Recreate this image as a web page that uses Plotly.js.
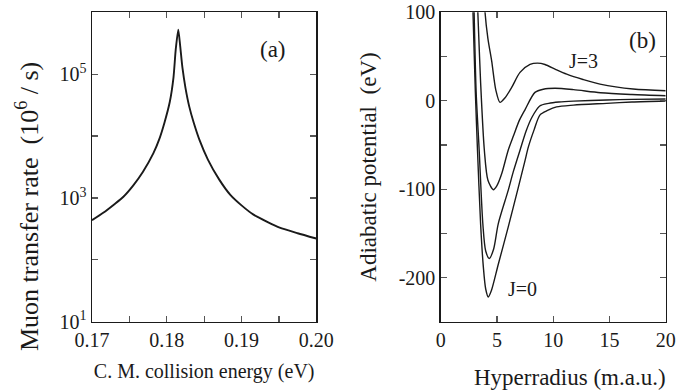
<!DOCTYPE html>
<html>
<head>
<meta charset="utf-8">
<script src="https://cdn.plot.ly/plotly-3.0.1.min.js"></script>
<style>html,body{margin:0;padding:0;background:#fff;}#chart{width:694px;height:392px;}</style>
</head>
<body>
<div id="chart"></div>
<script>
// Panel (a): muon transfer rate (10^6 / s) vs C.M. collision energy (eV)
const energy = [0.1700, 0.1715, 0.1730, 0.1742, 0.1755, 0.1768, 0.1782, 0.1790, 0.1797, 0.1804, 0.1809, 0.1812, 0.18154,
                0.1818, 0.1821, 0.1825, 0.1830, 0.1836, 0.1844, 0.1855, 0.1870, 0.1885, 0.1900, 0.1916, 0.1935, 0.1951, 0.1975, 0.2000];
const rate   = [436, 575, 794, 1047, 1585, 2630, 5248, 8913, 16596, 35481, 89125, 251189, 524808,
                281838, 125893, 60256, 30200, 16596, 8511, 4169, 1995, 1122, 759, 537, 407, 331, 269, 221];

// Panel (b): adiabatic potentials (eV) vs hyperradius (m.a.u.)
const rJ0 = [2.80, 2.87, 3.08, 3.27, 3.55, 3.79, 4.00, 4.23, 4.50, 5.12, 6.00, 6.90, 7.49, 7.80, 8.30, 8.83, 9.50, 10.3, 11.8, 14.75, 17.0, 20.0];
const vJ0 = [130, 100, 10, -56, -140, -188, -213, -222, -215, -185, -143, -98, -68, -52, -33, -16, -11, -7, -5, -3, -1.5, -0.3];
const rJ1 = [2.92, 2.97, 3.15, 3.42, 3.75, 4.00, 4.32, 4.70, 5.12, 6.00, 6.46, 7.05, 7.60, 8.10, 8.80, 9.60, 10.5, 11.8, 14.75, 17.0, 20.0];
const vJ1 = [130, 100, 10, -56, -140, -170, -178.5, -168, -139, -101.5, -80, -56, -34, -19, -6, -3, -1.5, -0.5, 0.8, 1.5, 1.9];
const rJ2 = [3.20, 3.30, 3.55, 3.88, 4.20, 4.68, 5.00, 5.42, 6.00, 6.46, 7.00, 7.50, 8.38, 9.12, 10.16, 11.8, 14.2, 17.0, 20.0];
const vJ2 = [130, 100, 20, -56, -90, -100.7, -96, -82.6, -56, -40, -22, -10, 9.4, 13, 14, 12.5, 9, 7, 5.6];
const rJ3 = [3.85, 3.94, 4.20, 4.53, 4.90, 5.27, 5.70, 6.31, 7.05, 7.94, 8.60, 9.27, 10.2, 11.2, 12.65, 14.16, 17.1, 20.0];
const vJ3 = [130, 100, 70, 45, 12, -1.9, 3, 15, 32, 41, 42.5, 41, 35.5, 30, 24, 18.8, 13.2, 11.3];

// Tick labels
const xaTicks = [0.170, 0.175, 0.180, 0.185, 0.190, 0.195, 0.200];
const xaText  = ['0.17', '', '0.18', '', '0.19', '', '0.20'];
const yaTicks = [1e1, 1e2, 1e3, 1e4, 1e5, 1e6];
const yaText  = ['10<sup>1</sup>', '', '10<sup>3</sup>', '', '10<sup>5</sup>', ''];
const xbTicks = [0, 5, 10, 15, 20];
const xbText  = ['0', '5', '10', '15', '20'];
const ybTicks = [-200, -150, -100, -50, 0, 50, 100];
const ybText  = ['-200', '', '-100', '', '0', '', '100'];

const FONT = 'Liberation Serif, Times New Roman, serif';
const INK = '#1a1a1a';
const W = 694, H = 392;
const NB = '\u00a0';

const axisBase = {
  showline: true, linecolor: INK, linewidth: 1.4, mirror: 'ticks',
  ticks: 'inside', ticklen: 6, tickwidth: 1.2, tickcolor: '#555',
  showgrid: false, zeroline: false, tickmode: 'array',
  tickfont: {family: FONT, size: 20, color: INK}
};

const lineB = {color: INK, width: 1.4, shape: 'spline', smoothing: 0.8};
const traces = [
  {x: energy, y: rate, xaxis: 'x', yaxis: 'y', mode: 'lines', line: {color: INK, width: 1.9, shape: 'spline', smoothing: 0.6}},
  {x: rJ0, y: vJ0, xaxis: 'x2', yaxis: 'y2', mode: 'lines', line: lineB},
  {x: rJ1, y: vJ1, xaxis: 'x2', yaxis: 'y2', mode: 'lines', line: lineB},
  {x: rJ2, y: vJ2, xaxis: 'x2', yaxis: 'y2', mode: 'lines', line: lineB},
  {x: rJ3, y: vJ3, xaxis: 'x2', yaxis: 'y2', mode: 'lines', line: lineB}
];

const layout = {
  width: W, height: H,
  margin: {l: 0, r: 0, t: 0, b: 0},
  paper_bgcolor: '#fff', plot_bgcolor: '#fff',
  showlegend: false,
  font: {family: FONT, color: INK},
  xaxis: Object.assign({}, axisBase, {
    domain: [92 / W, 316.3 / W], anchor: 'y', range: [0.17, 0.20],
    tickvals: xaTicks, ticktext: xaText,
    title: {text: 'C. M. collision energy (eV)', font: {family: FONT, size: 20, color: INK}, standoff: 14}
  }),
  yaxis: Object.assign({}, axisBase, {
    domain: [1 - 321.7 / H, 1 - 12.3 / H], anchor: 'x', type: 'log', range: [1, 6],
    tickvals: yaTicks, ticktext: yaText
  }),
  xaxis2: Object.assign({}, axisBase, {
    domain: [440.7 / W, 665.7 / W], anchor: 'y2', range: [0, 20],
    tickvals: xbTicks, ticktext: xbText
  }),
  yaxis2: Object.assign({}, axisBase, {
    domain: [1 - 321.7 / H, 1 - 12.3 / H], anchor: 'x2', range: [-250, 100],
    tickvals: ybTicks, ticktext: ybText,
    title: {text: 'Adiabatic potential' + NB + NB + '(eV)', font: {family: FONT, size: 23, color: INK}, standoff: 15}
  }),
  annotations: [
    {text: 'Muon transfer rate' + NB + NB + '(10<sup>6</sup> / s)', xref: 'paper', yref: 'paper', x: 28 / W, y: 1 - 207 / H,
     xanchor: 'center', yanchor: 'middle', textangle: -90, showarrow: false, font: {family: FONT, size: 26, color: INK}},
    {text: 'Hyperradius (m.a.u.)', xref: 'paper', yref: 'paper', x: 570 / W, y: 1 - 377 / H,
     xanchor: 'center', yanchor: 'middle', showarrow: false, font: {family: FONT, size: 23, color: INK}},
    {text: '(a)', xref: 'x', yref: 'paper', x: 0.1942, y: 1 - 50 / H, xanchor: 'center', yanchor: 'middle',
     showarrow: false, font: {family: FONT, size: 23, color: INK}},
    {text: '(b)', xref: 'x2', yref: 'paper', x: 17.9, y: 1 - 40 / H, xanchor: 'center', yanchor: 'middle',
     showarrow: false, font: {family: FONT, size: 23, color: INK}},
    {text: 'J=3', xref: 'x2', yref: 'y2', x: 12.65, y: 45, xanchor: 'center', yanchor: 'middle',
     showarrow: false, font: {family: FONT, size: 20, color: INK}},
    {text: 'J=0', xref: 'x2', yref: 'y2', x: 7.27, y: -213, xanchor: 'center', yanchor: 'middle',
     showarrow: false, font: {family: FONT, size: 20, color: INK}}
  ]
};

Plotly.newPlot('chart', traces, layout, {staticPlot: true, displayModeBar: false});
</script>
</body>
</html>
